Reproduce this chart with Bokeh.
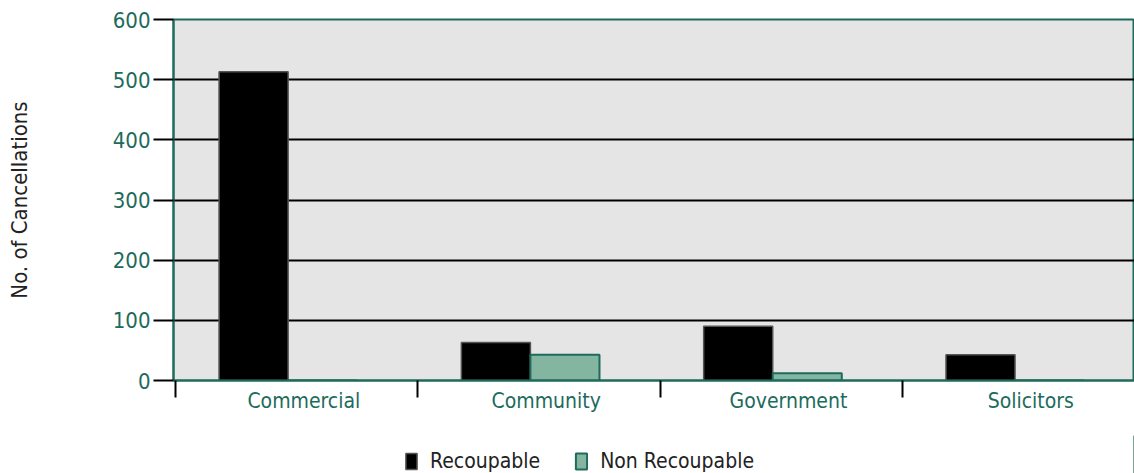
import numpy as np
from bokeh.plotting import figure
from bokeh.layouts import column
from bokeh.models import ColumnDataSource, FixedTicker, Legend, LegendItem, Range1d
from bokeh.embed import file_html
from bokeh.resources import INLINE

categories = ["Commercial", "Community", "Government", "Solicitors"]
recoupable = [513, 63, 90, 43]
non_recoupable = [0, 43, 12, 0]
y_ticks = [0, 100, 200, 300, 400, 500, 600]
series_names = ["Recoupable", "Non Recoupable"]

TEAL = "#1d6b5c"
FONT = "DejaVu Sans Condensed"
REC_STYLE = dict(fill_color="black", line_color="#555555", line_width=1.5)
NON_STYLE = dict(fill_color="#84b5a0", line_color=TEAL, line_width=2)

idx = np.arange(len(categories))
src = ColumnDataSource(dict(
    x_rec=idx + 0.3225, x_non=idx + 0.6075,
    rec=recoupable, non=non_recoupable, cat=categories))

p = figure(width=1134, height=435, output_backend="svg", toolbar_location=None,
           x_range=Range1d(-0.008, 3.958), y_range=Range1d(0, 600),
           min_border_left=173, min_border_right=0, min_border_top=19,
           min_border_bottom=55)
p.background_fill_color = "#e5e5e5"
p.border_fill_color = "white"
p.outline_line_color = TEAL
p.outline_line_width = 2

p.vbar(x="x_rec", top="rec", width=0.285, bottom=0, source=src, **REC_STYLE)
p.vbar(x="x_non", top="non", width=0.285, bottom=0, source=src, **NON_STYLE)

# grid
p.xgrid.visible = False
p.ygrid.ticker = FixedTicker(ticks=y_ticks[1:-1])
p.ygrid.grid_line_color = "black"
p.ygrid.grid_line_width = 2

# y axis
ya = p.yaxis[0]
ya.ticker = FixedTicker(ticks=y_ticks)
ya.axis_line_color = TEAL
ya.axis_line_width = 2
ya.major_tick_line_color = "black"
ya.major_tick_line_width = 2
ya.major_tick_out = 20
ya.major_tick_in = 0
ya.minor_tick_line_color = None
ya.major_label_text_font = FONT
ya.major_label_text_font_size = "22px"
ya.major_label_text_color = TEAL
ya.major_label_standoff = 3
ya.axis_label = "No. of Cancellations"
ya.axis_label_text_font = FONT
ya.axis_label_text_font_size = "22px"
ya.axis_label_text_font_style = "normal"
ya.axis_label_text_color = "#222222"
ya.axis_label_standoff = 78

# x axis
xa = p.xaxis[0]
label_pos = [float(i) + 0.53 for i in idx]
xa.ticker = FixedTicker(ticks=label_pos, minor_ticks=list(np.arange(len(categories) + 1)))
xa.major_label_overrides = {lp: c for lp, c in zip(label_pos, categories)}
xa.axis_line_color = TEAL
xa.axis_line_width = 2
xa.major_tick_line_color = None
xa.major_tick_out = 0
xa.major_tick_in = 0
xa.minor_tick_line_color = "black"
xa.minor_tick_line_width = 2
xa.minor_tick_out = 17
xa.minor_tick_in = 0
xa.major_label_text_font = FONT
xa.major_label_text_font_size = "21px"
xa.major_label_text_color = TEAL
xa.major_label_standoff = -9

# legend strip below
lf = figure(width=1134, height=38, output_backend="svg", toolbar_location=None,
            x_range=Range1d(0, 1), y_range=Range1d(0, 1),
            min_border_left=0, min_border_right=0, min_border_top=0, min_border_bottom=0)
lf.axis.visible = False
lf.grid.visible = False
lf.outline_line_color = None
lf.background_fill_color = "white"
offscreen = ColumnDataSource(dict(x=[10.0], top=[1.0]))
d1 = lf.vbar(x="x", top="top", width=0.1, source=offscreen, **REC_STYLE)
d2 = lf.vbar(x="x", top="top", width=0.1, source=offscreen, **NON_STYLE)

legend = Legend(items=[LegendItem(label=series_names[0], renderers=[d1]),
                       LegendItem(label=series_names[1], renderers=[d2])],
                orientation="horizontal", location=(231, 0))
legend.label_text_font = FONT
legend.label_text_font_size = "21px"
legend.label_text_color = "#222222"
legend.glyph_width = 14
legend.glyph_height = 20
legend.label_standoff = 12
legend.spacing = 34
legend.border_line_color = None
legend.background_fill_alpha = 0
legend.margin = 0
legend.padding = 3
lf.add_layout(legend, "center")

open("out.html", "w").write(file_html(column(p, lf, spacing=0), INLINE))
